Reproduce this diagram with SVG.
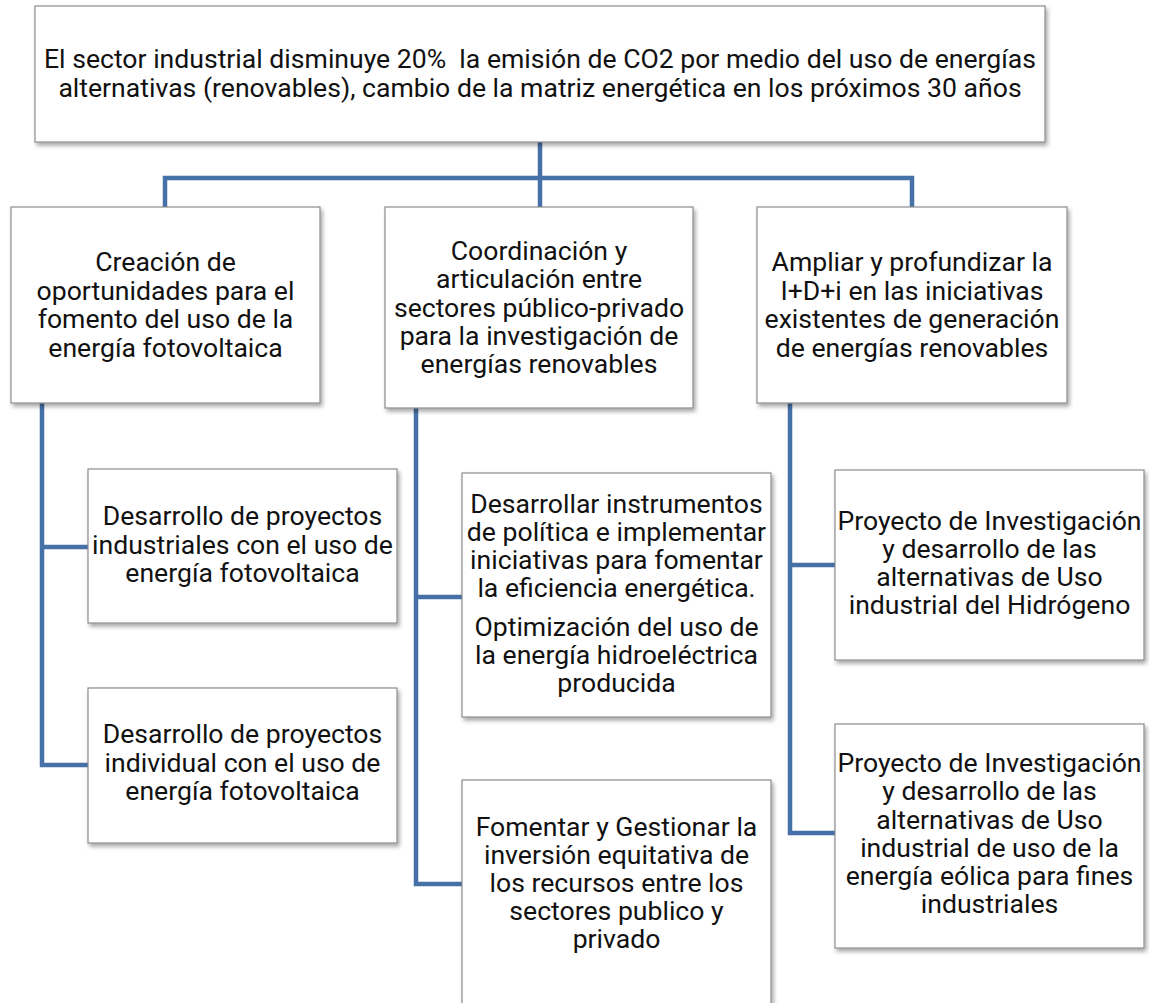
<svg xmlns="http://www.w3.org/2000/svg" width="1150" height="1003" viewBox="0 0 1150 1003">
<defs>
<filter id="sh" x="-5%" y="-5%" width="110%" height="115%">
<feDropShadow dx="2" dy="3" stdDeviation="2" flood-color="#000" flood-opacity="0.35"/>
</filter>
<style>
.box{fill:#fff;stroke:#8c8c8c;stroke-width:1.2;filter:url(#sh)}
.t{font-family:Roboto,"Liberation Sans",sans-serif;font-size:26.6px;font-weight:400;fill:#111;text-anchor:middle}
.c{fill:none;stroke:#4671A8;stroke-width:4.5;stroke-linecap:square}
</style>
</defs>
<rect width="1150" height="1003" fill="#fff"/>
<g id="connectors">
<path class="c" d="M540,143 V178 M165,178 H912 M165,178 V207 M540,178 V207 M912,178 V207"/>
<path class="c" d="M42,403 V765 H88 M42,547 H88"/>
<path class="c" d="M416,408 V884 H462 M416,597 H462"/>
<path class="c" d="M790,403 V833 H835 M790,565 H835"/>
</g>
<g id="root">
<rect class="box" x="35" y="6" width="1010" height="136"/>
<text class="t" x="540" y="68">El sector industrial disminuye 20%&#160; la emisión de CO2 por medio del uso de energías</text>
<text class="t" x="540" y="97">alternativas (renovables), cambio de la matriz energética en los próximos 30 años</text>
</g>
<g id="n1">
<rect class="box" x="11" y="207" width="309" height="196"/>
<text class="t" x="165.5" y="271">Creación de</text>
<text class="t" x="165.5" y="300">oportunidades para el</text>
<text class="t" x="165.5" y="328">fomento del uso de la</text>
<text class="t" x="165.5" y="357">energía fotovoltaica</text>
</g>
<g id="n2">
<rect class="box" x="385" y="207" width="308" height="201"/>
<text class="t" x="539" y="260">Coordinación y</text>
<text class="t" x="539" y="288">articulación entre</text>
<text class="t" x="539" y="317">sectores público-privado</text>
<text class="t" x="539" y="345">para la investigación de</text>
<text class="t" x="539" y="373">energías renovables</text>
</g>
<g id="n3">
<rect class="box" x="757" y="207" width="310" height="196"/>
<text class="t" x="912" y="271">Ampliar y profundizar la</text>
<text class="t" x="912" y="300">I+D+i en las iniciativas</text>
<text class="t" x="912" y="328">existentes de generación</text>
<text class="t" x="912" y="357">de energías renovables</text>
</g>
<g id="n1a">
<rect class="box" x="88" y="469" width="309" height="154"/>
<text class="t" x="242.5" y="525">Desarrollo de proyectos</text>
<text class="t" x="242.5" y="554">industriales con el uso de</text>
<text class="t" x="242.5" y="582">energía fotovoltaica</text>
</g>
<g id="n1b">
<rect class="box" x="88" y="688" width="309" height="155"/>
<text class="t" x="242.5" y="743">Desarrollo de proyectos</text>
<text class="t" x="242.5" y="772">individual con el uso de</text>
<text class="t" x="242.5" y="800">energía fotovoltaica</text>
</g>
<g id="n2a">
<rect class="box" x="462" y="473" width="309" height="244"/>
<text class="t" x="616.5" y="513">Desarrollar instrumentos</text>
<text class="t" x="616.5" y="541">de política e implementar</text>
<text class="t" x="616.5" y="569">iniciativas para fomentar</text>
<text class="t" x="616.5" y="597">la eficiencia energética.</text>
<text class="t" x="616.5" y="636">Optimización del uso de</text>
<text class="t" x="616.5" y="664">la energía hidroeléctrica</text>
<text class="t" x="616.5" y="692">producida</text>
</g>
<g id="n2b">
<rect class="box" x="462" y="780" width="309" height="240"/>
<text class="t" x="616.5" y="836">Fomentar y Gestionar la</text>
<text class="t" x="616.5" y="864">inversión equitativa de</text>
<text class="t" x="616.5" y="892">los recursos entre los</text>
<text class="t" x="616.5" y="920">sectores publico y</text>
<text class="t" x="616.5" y="948">privado</text>
</g>
<g id="n3a">
<rect class="box" x="835" y="470" width="309" height="190"/>
<text class="t" x="989.5" y="530">Proyecto de Investigación</text>
<text class="t" x="989.5" y="558">y desarrollo de las</text>
<text class="t" x="989.5" y="586">alternativas de Uso</text>
<text class="t" x="989.5" y="614">industrial del Hidrógeno</text>
</g>
<g id="n3b">
<rect class="box" x="835" y="724" width="309" height="224"/>
<text class="t" x="989.5" y="772">Proyecto de Investigación</text>
<text class="t" x="989.5" y="800">y desarrollo de las</text>
<text class="t" x="989.5" y="829">alternativas de Uso</text>
<text class="t" x="989.5" y="857">industrial de uso de la</text>
<text class="t" x="989.5" y="885">energía eólica para fines</text>
<text class="t" x="989.5" y="913">industriales</text>
</g>
</svg>
